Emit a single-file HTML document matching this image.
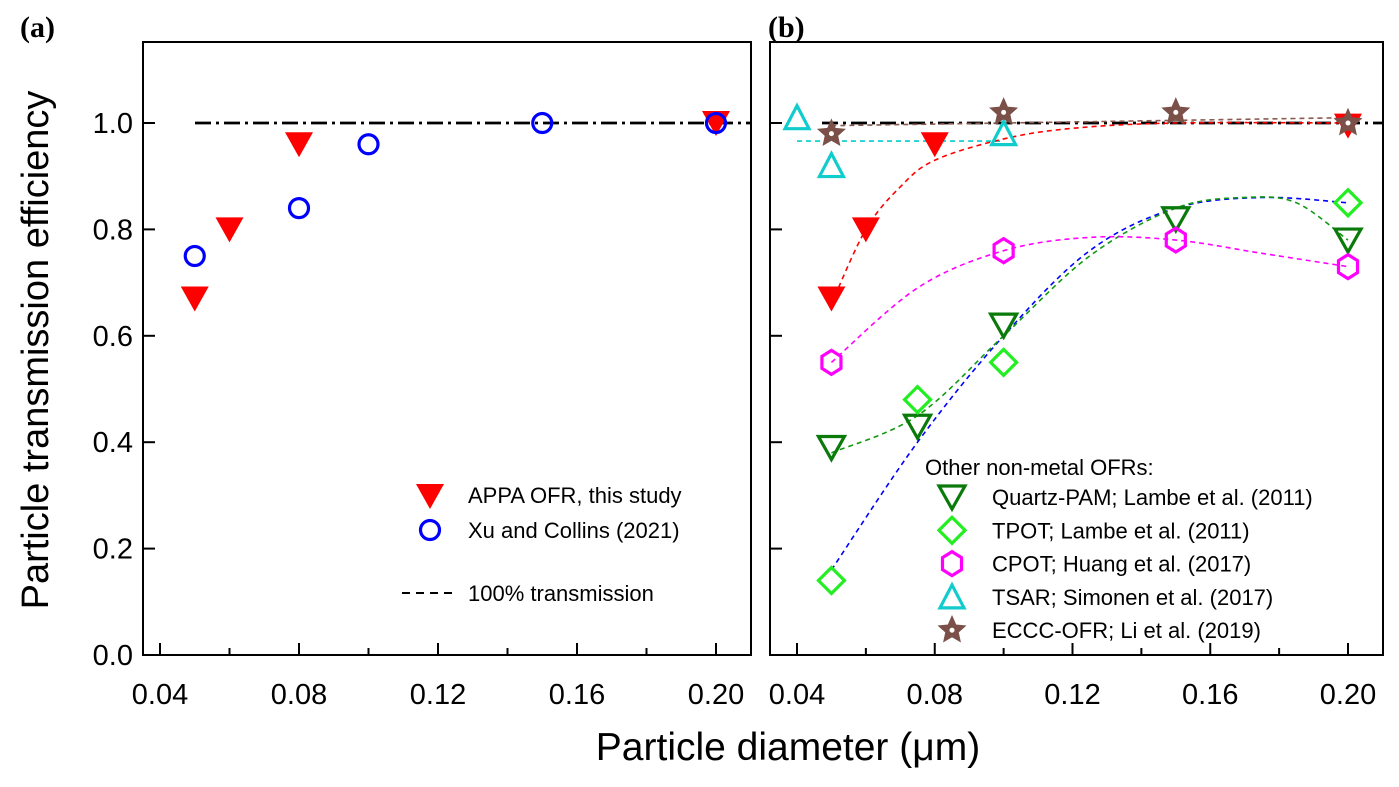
<!DOCTYPE html>
<html><head><meta charset="utf-8"><style>
body{margin:0;background:#fff;}
svg text{font-family:"Liberation Sans",sans-serif;}
</style></head><body>
<svg id="c" width="1399" height="782" xmlns="http://www.w3.org/2000/svg"></svg>
<script>
const yTicks=[0.0,0.2,0.4,0.6,0.8,1.0];
const xTicks=[0.04,0.08,0.12,0.16,0.20];
const xMinor=[0.06,0.10,0.14,0.18];
// panel a
const aRedX=[0.05,0.06,0.08,0.20], aRedY=[0.67,0.80,0.96,1.0];
const aBlueX=[0.05,0.08,0.10,0.15,0.20], aBlueY=[0.75,0.84,0.96,1.0,1.0];
// panel b
const bRedX=[0.05,0.06,0.08,0.20], bRedY=[0.67,0.80,0.96,0.995];
const quartzX=[0.05,0.075,0.10,0.15,0.20], quartzY=[0.39,0.43,0.62,0.82,0.78];
const tpotX=[0.05,0.075,0.10,0.20], tpotY=[0.14,0.48,0.55,0.85];
const cpotX=[0.05,0.10,0.15,0.20], cpotY=[0.55,0.76,0.78,0.73];
const tsarX=[0.04,0.05,0.10], tsarY=[1.01,0.92,0.98];
const ecccX=[0.05,0.10,0.15,0.20], ecccY=[0.98,1.02,1.02,1.0];
// fit curves
const fitRedX=[0.05,0.06,0.07,0.08,0.10,0.12,0.15,0.20], fitRedY=[0.66,0.80,0.88,0.93,0.97,0.99,1.0,1.0];
const fitBlueX=[0.05,0.075,0.10,0.125,0.15,0.175,0.20], fitBlueY=[0.16,0.40,0.60,0.76,0.84,0.86,0.85];
const fitGreenX=[0.05,0.075,0.10,0.125,0.15,0.17,0.185,0.20], fitGreenY=[0.38,0.45,0.60,0.75,0.84,0.86,0.85,0.78];
const fitMagX=[0.05,0.075,0.10,0.125,0.15,0.175,0.20], fitMagY=[0.55,0.69,0.76,0.785,0.78,0.755,0.73];
const fitCyanX=[0.04,0.10], fitCyanY=[0.966,0.966];
const fitBrownX=[0.05,0.20], fitBrownY=[0.995,1.01];

const svg=document.getElementById('c');
const NS='http://www.w3.org/2000/svg';
function mk(tag,at,parent){const e=document.createElementNS(NS,tag);for(const k in at)e.setAttribute(k,at[k]);(parent||svg).appendChild(e);return e;}
const Y=v=>655-v*532;
const Xa=v=>160+(v-0.04)/0.04*139;
const Xb=v=>797+(v-0.04)/0.04*137.75;

function marker(type,cx,cy,color,name){
  let e;
  if(type==='tridown'){e=mk('polygon',{points:`${cx-14},${cy-12} ${cx+14},${cy-12} ${cx},${cy+13}`,fill:color});}
  else if(type==='tridownO'){e=mk('polygon',{points:`${cx-13},${cy-11} ${cx+13},${cy-11} ${cx},${cy+12}`,fill:'none',stroke:color,'stroke-width':3.2});}
  else if(type==='triup'){e=mk('polygon',{points:`${cx-12},${cy+11} ${cx+12},${cy+11} ${cx},${cy-12}`,fill:'none',stroke:color,'stroke-width':3.2});}
  else if(type==='circle'){e=mk('circle',{cx,cy,r:9.5,fill:'none',stroke:color,'stroke-width':3.2});}
  else if(type==='diamond'){e=mk('polygon',{points:`${cx},${cy-13} ${cx+13},${cy} ${cx},${cy+13} ${cx-13},${cy}`,fill:'none',stroke:color,'stroke-width':3.2});}
  else if(type==='hex'){let p=[];for(let i=0;i<6;i++){const a=Math.PI/3*i+Math.PI/2;p.push((cx+11*Math.cos(a))+','+(cy+12*Math.sin(a)));}e=mk('polygon',{points:p.join(' '),fill:'none',stroke:color,'stroke-width':3.2});}
  else if(type==='star'){let p=[];for(let i=0;i<10;i++){const r=i%2?6.5:14;const a=-Math.PI/2+Math.PI/5*i;p.push((cx+r*Math.cos(a))+','+(cy+r*Math.sin(a)));}e=mk('polygon',{points:p.join(' '),fill:color,stroke:color,'stroke-width':1});mk('circle',{cx,cy,r:2.5,fill:'#fff'});}
  
  
  return e;
}
function curve(xs,ys,X,color,name){
  const pts=xs.map((x,i)=>[X(x),Y(ys[i])]);
  let d='M'+pts[0][0]+','+pts[0][1];
  for(let i=0;i<pts.length-1;i++){
    const p0=pts[i-1]||pts[i],p1=pts[i],p2=pts[i+1],p3=pts[i+2]||p2;
    d+=` C${p1[0]+(p2[0]-p0[0])/6},${p1[1]+(p2[1]-p0[1])/6} ${p2[0]-(p3[0]-p1[0])/6},${p2[1]-(p3[1]-p1[1])/6} ${p2[0]},${p2[1]}`;
  }
  const e=mk('path',{d,fill:'none',stroke:color,'stroke-width':1.6,'stroke-dasharray':'5,4'});
  
  
}
function axes(x0,x1,X,pname,showY){
  const f=mk('rect',{x:x0,y:42,width:x1-x0,height:613,fill:'none',stroke:'#000','stroke-width':2});
  
  
  xTicks.forEach(t=>{mk('line',{x1:X(t),x2:X(t),y1:655,y2:643,stroke:'#000','stroke-width':2});
    const l=mk('text',{x:X(t),y:704,'font-size':29,'text-anchor':'middle'});l.textContent=t.toFixed(2);
    
    });
  xMinor.forEach(t=>mk('line',{x1:X(t),x2:X(t),y1:655,y2:648,stroke:'#000','stroke-width':2}));
  yTicks.forEach(t=>{mk('line',{x1:x0,x2:x0+12,y1:Y(t),y2:Y(t),stroke:'#000','stroke-width':2});
    if(showY){const l=mk('text',{x:x0-10,y:Y(t)+10,'font-size':29,'text-anchor':'end'});l.textContent=t.toFixed(1);
    
    }});
}
axes(143,751,Xa,'panel-a',true);
axes(770,1383,Xb,'panel-b',false);

// reference lines
[[143,751],[797,1383]].forEach((r,i)=>{const e=mk('line',{x1:i?r[0]+25:195,x2:r[1],y1:Y(1),y2:Y(1),stroke:'#000','stroke-width':2.8,'stroke-dasharray':'16,5,3,5'});

});

// panel a markers
aRedX.forEach((x,i)=>marker('tridown',Xa(x),Y(aRedY[i]),'#ff0000','appa-point'));
aBlueX.forEach((x,i)=>marker('circle',Xa(x),Y(aBlueY[i]),'#0000ff','xu-collins-point'));

// panel b fits
curve(fitCyanX,fitCyanY,Xb,'#00cccc','tsar-fit');
curve(fitBrownX,fitBrownY,Xb,'#8b5a50','eccc-fit');
curve(fitRedX,fitRedY,Xb,'#ff0000','appa-fit');
curve(fitBlueX,fitBlueY,Xb,'#0000ff','tpot-fit');
curve(fitGreenX,fitGreenY,Xb,'#119911','quartz-fit');
curve(fitMagX,fitMagY,Xb,'#ff00ff','cpot-fit');
// panel b markers
bRedX.forEach((x,i)=>marker('tridown',Xb(x),Y(bRedY[i]),'#ff0000','appa-point-b'));
quartzX.forEach((x,i)=>marker('tridownO',Xb(x),Y(quartzY[i]),'#0a7a0a','quartz-pam-point'));
tpotX.forEach((x,i)=>marker('diamond',Xb(x),Y(tpotY[i]),'#22ee22','tpot-point'));
cpotX.forEach((x,i)=>marker('hex',Xb(x),Y(cpotY[i]),'#ff00ff','cpot-point'));
tsarX.forEach((x,i)=>marker('triup',Xb(x),Y(tsarY[i]),'#11cccc','tsar-point'));
ecccX.forEach((x,i)=>marker('star',Xb(x),Y(ecccY[i]),'#7a5048','eccc-ofr-point'));

function txt(x,y,s,size,name,extra){const e=mk('text',Object.assign({x,y,'font-size':size},extra||{}));e.textContent=s;

return e;}
// legend a
marker('tridown',430,496,'#ff0000','legend-appa-symbol');
txt(468,503,'APPA OFR, this study',22,'legend-appa');
marker('circle',430,530,'#0000ff','legend-xu-symbol');
txt(468,538,'Xu and Collins (2021)',22,'legend-xu');
mk('line',{x1:402,x2:455,y1:593,y2:593,stroke:'#000','stroke-width':2,'stroke-dasharray':'8,6'});
txt(468,601,'100% transmission',22,'legend-100pct');
// legend b
txt(925,475,'Other non-metal OFRs:',22,'legend-b-title');
const leg=[['tridownO','#0a7a0a','Quartz-PAM; Lambe et al. (2011)'],['diamond','#22ee22','TPOT; Lambe et al. (2011)'],['hex','#ff00ff','CPOT; Huang et al. (2017)'],['triup','#11cccc','TSAR; Simonen et al. (2017)'],['star','#7a5048','ECCC-OFR; Li et al. (2019)']];
leg.forEach((l,i)=>{const y=497+i*33.3;marker(l[0],952,y,l[1],'legend-b-symbol');txt(992,y+8,l[2],22,'legend-b-entry');});
// titles
txt(20,37,'(a)',30,'panel-a-label',{'font-weight':'bold'}).setAttribute('style','font-family:"Liberation Serif",serif');
txt(768,37,'(b)',30,'panel-b-label',{'font-weight':'bold'}).setAttribute('style','font-family:"Liberation Serif",serif');
txt(788,760,'Particle diameter (μm)',39,'x-axis-title',{'text-anchor':'middle'});
txt(0,0,'Particle transmission efficiency',38,'y-axis-title',{'text-anchor':'middle',transform:'translate(48,350) rotate(-90)'});
</script>
</body></html>
